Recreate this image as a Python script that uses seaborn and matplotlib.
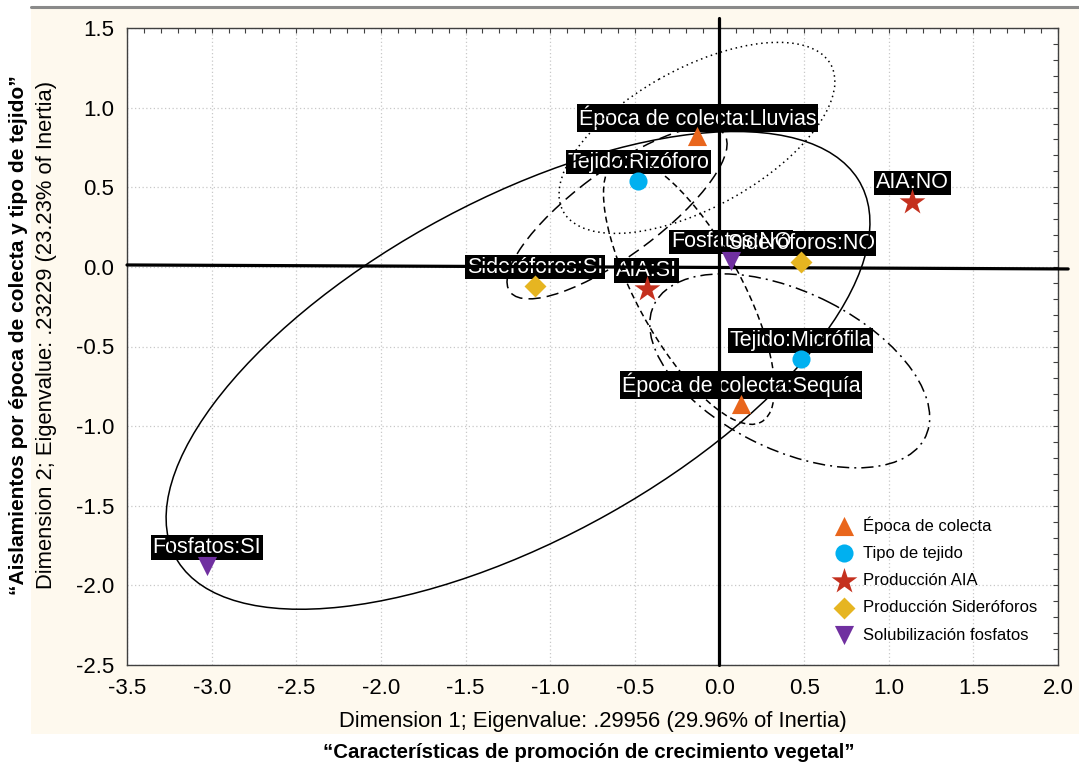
import numpy as np
import pandas as pd
import matplotlib
matplotlib.use("Agg")
import matplotlib.pyplot as plt
import seaborn as sns
from matplotlib.patches import Ellipse, Rectangle
from matplotlib.lines import Line2D
from matplotlib.ticker import MultipleLocator, FormatStrFormatter

# ---------------- data ----------------
labels = ["Época de colecta:Lluvias", "Época de colecta:Sequía",
          "Tejido:Rizóforo", "Tejido:Micrófila",
          "AIA:NO", "AIA:SI",
          "Fosfatos:NO", "Sideróforos:NO", "Sideróforos:SI",
          "Fosfatos:SI"]
dim1 = [-0.13, 0.13, -0.48, 0.48, 1.14, -0.43, 0.07, 0.48, -1.09, -3.03]
dim2 = [0.82, -0.86, 0.54, -0.58, 0.41, -0.14, 0.04, 0.03, -0.12, -1.88]
groups = ["Época de colecta", "Época de colecta",
          "Tipo de tejido", "Tipo de tejido",
          "Producción AIA", "Producción AIA",
          "Solubilización fosfatos", "Producción Sideróforos",
          "Producción Sideróforos", "Solubilización fosfatos"]

legend_order = ["Época de colecta", "Tipo de tejido", "Producción AIA",
                "Producción Sideróforos", "Solubilización fosfatos"]
group_colors = ["#E9661C", "#00B0F0", "#C4301E", "#E6B521", "#7030A0"]
group_markers = ["^", "o", "*", "D", "v"]
group_sizes = [190, 170, 380, 125, 190]

# confidence ellipses (center, spread along each dimension, correlation)
ell_cx = [-0.133, -0.605, -0.18, 0.415, -1.19]
ell_cy = [0.81, 0.339, -0.151, -0.653, -0.65]
ell_sx = [0.815, 0.650, 0.505, 0.827, 2.079]
ell_sy = [0.600, 0.540, 0.838, 0.609, 1.500]
ell_r = [0.59, 0.80, -0.73, -0.48, 0.618]
ell_styles = [(0, (1, 2.4)), (0, (8, 4)), (0, (4, 2.6)),
              (0, (8, 3.3, 1.3, 3.3)), "-"]

xlabel = "Dimension 1; Eigenvalue: .29956 (29.96% of Inertia)"
ylabel = "Dimension 2; Eigenvalue: .23229 (23.23% of Inertia)"
xtitle = "“Características de promoción de crecimiento vegetal”"
ytitle = "“Aislamientos por época de colecta y tipo de tejido”"

# ---------------- style ----------------
sns.set_style("white")
plt.rcParams["font.family"] = ["Liberation Sans", "DejaVu Sans"]
plt.rcParams["axes.unicode_minus"] = False
for k in ("text.color", "axes.labelcolor", "xtick.color", "ytick.color"):
    plt.rcParams[k] = "black"

W, H = 1079, 765
fig = plt.figure(figsize=(W / 100, H / 100), dpi=100)
fig.patch.set_facecolor("white")
fig.patches.append(Rectangle((31 / W, 1 - 734 / H), 1 - 31 / W, (734 - 9) / H,
                             transform=fig.transFigure, facecolor="#FEF9EE",
                             edgecolor="none", zorder=-5))
fig.lines.append(Line2D([31 / W, 1], [1 - 7 / H, 1 - 7 / H], transform=fig.transFigure,
                        color="#8a8a8a", lw=2.2, zorder=-4))

ax = fig.add_axes([127 / W, 1 - 665 / H, (1058 - 127) / W, (665 - 28) / H])
ax.set_facecolor("white")
ax.set_zorder(1)

df = pd.DataFrame({"x": dim1, "y": dim2, "label": labels, "group": groups})

for g, c, m, s in zip(legend_order, group_colors, group_markers, group_sizes):
    sub = df[df["group"] == g]
    sns.scatterplot(data=sub, x="x", y="y", marker=m, color=c, s=s,
                    linewidth=0, label=g, ax=ax, zorder=5)

# ellipses
for cx, cy, sx, sy, r, ls in zip(ell_cx, ell_cy, ell_sx, ell_sy, ell_r, ell_styles):
    cov = np.array([[sx * sx, r * sx * sy], [r * sx * sy, sy * sy]])
    vals, vecs = np.linalg.eigh(cov)
    ang = np.degrees(np.arctan2(vecs[1, 1], vecs[0, 1]))
    e = Ellipse((cx, cy), 2 * np.sqrt(vals[1]), 2 * np.sqrt(vals[0]), angle=ang,
                fill=False, edgecolor="black", lw=1.1, linestyle=ls, zorder=3)
    ax.add_patch(e)

# point labels: boxes first, then white text
for pass_ in (0, 1):
    for lab, x, y in zip(labels, dim1, dim2):
        kw = dict(xytext=(0, 13.5), textcoords="offset points", ha="center",
                  va="center", fontsize=15.5)
        if pass_ == 0:
            ax.annotate(lab, (x, y), color="black", zorder=2,
                        bbox=dict(boxstyle="square,pad=0.08", fc="black", ec="none"), **kw)
        else:
            ax.annotate(lab, (x, y), color="white", zorder=2.1, **kw)

# zero reference axes
ax.plot([-3.5, 2.06], [0.012, -0.013], color="black", lw=2.3, zorder=4, clip_on=False)
ax.plot([0, 0], [-2.5, 1.565], color="black", lw=2.3, zorder=4, clip_on=False)

ax.set_xlim(-3.5, 2.0)
ax.set_ylim(-2.5, 1.5)
ax.xaxis.set_major_locator(MultipleLocator(0.5))
ax.yaxis.set_major_locator(MultipleLocator(0.5))
ax.xaxis.set_minor_locator(MultipleLocator(0.1))
ax.yaxis.set_minor_locator(MultipleLocator(0.1))
ax.xaxis.set_major_formatter(FormatStrFormatter("%.1f"))
ax.yaxis.set_major_formatter(FormatStrFormatter("%.1f"))
ax.grid(True, which="major", linestyle=(0, (1, 2)), color="#c8c8c8", lw=0.9)
ax.set_axisbelow(True)
ax.tick_params(which="both", direction="in", top=True, right=True, length=3.5,
               width=0.8, color="#404040", labelsize=16)
ax.tick_params(axis="x", which="major", pad=9)
ax.tick_params(axis="y", which="major", pad=9)
for sp in ax.spines.values():
    sp.set_color("#404040")
    sp.set_linewidth(1.0)
ax.set_xlabel("")
ax.set_ylabel("")

fig.text(593 / W, 1 - 721 / H, xlabel, ha="center", va="center", fontsize=15.8)
fig.text(47 / W, 1 - 335 / H, ylabel, ha="center", va="center", fontsize=15.8, rotation=90)
fig.text(589 / W, 1 - 752 / H, xtitle, ha="center", va="center", fontsize=14.7,
         fontweight="bold")
fig.text(19 / W, 1 - 335 / H, ytitle, ha="center", va="center", fontsize=15,
         fontweight="bold", rotation=90)

h, l = ax.get_legend_handles_labels()
ax.legend(h, l, loc="upper left", bbox_to_anchor=(831 / W, 1 - 516 / H),
          bbox_transform=fig.transFigure, frameon=False, fontsize=12,
          handlelength=1.5, handletextpad=0.4, labelspacing=0.74, borderpad=0,
          borderaxespad=0)

fig.savefig("out.png", dpi=100)
